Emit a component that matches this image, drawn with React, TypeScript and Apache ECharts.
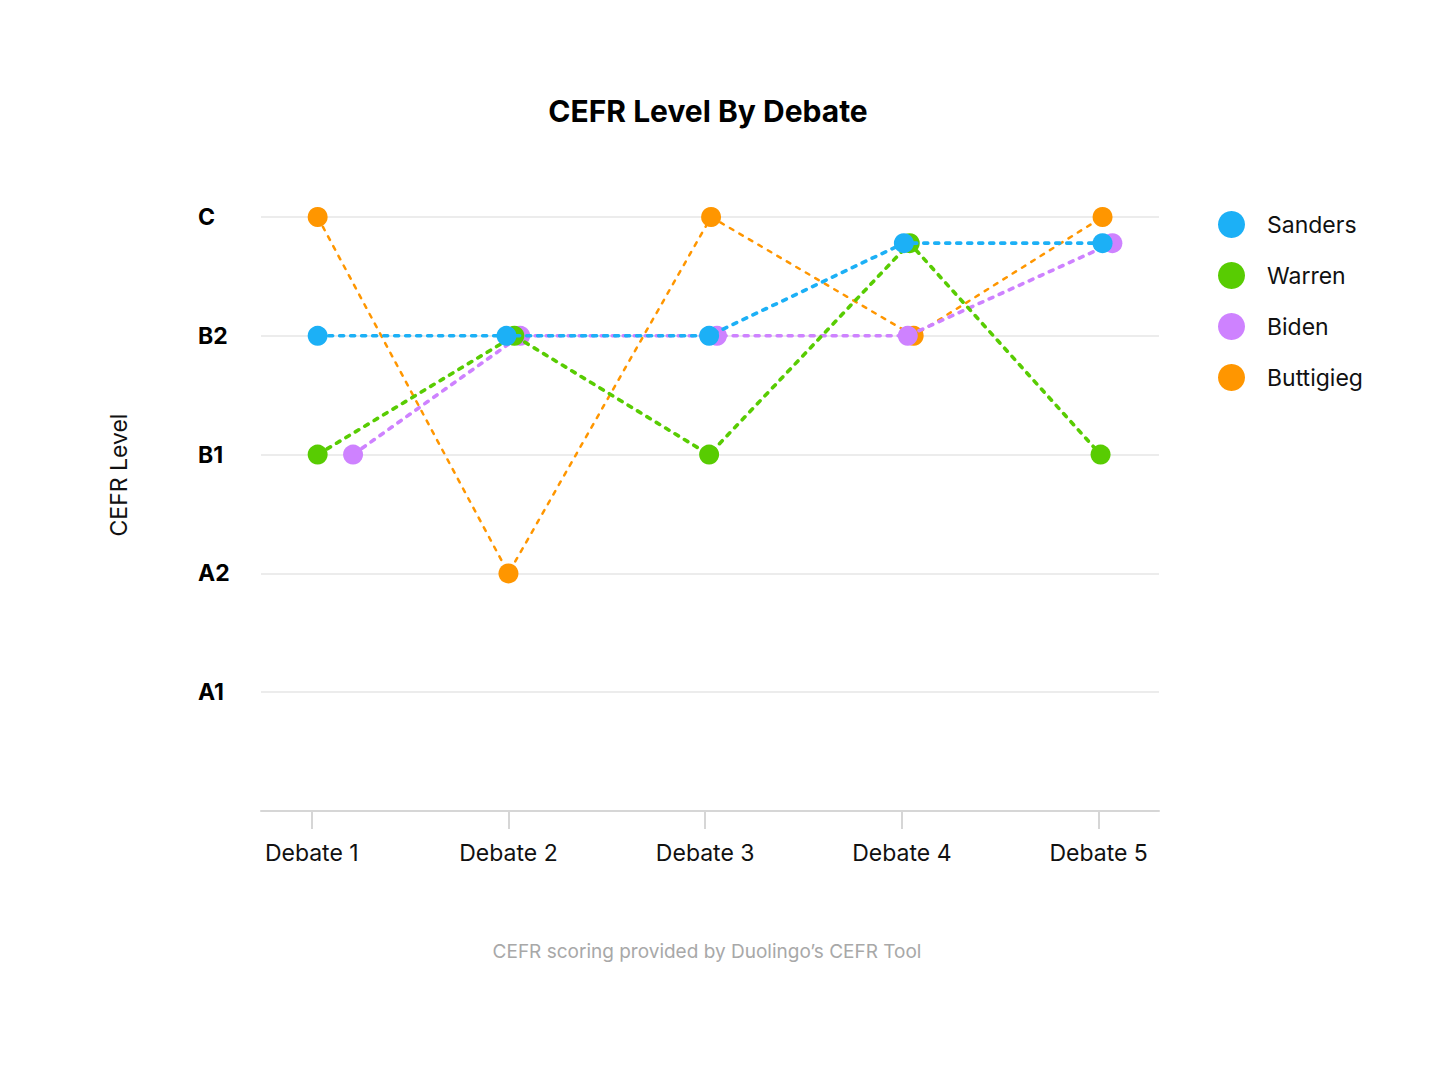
import React, { useEffect, useRef } from "react";
import * as echarts from "echarts";

const debates = ["Debate 1", "Debate 2", "Debate 3", "Debate 4", "Debate 5"];
const levels = ["", "A1", "A2", "B1", "B2", "C"];
const seriesNames = ["Sanders", "Warren", "Biden", "Buttigieg"];
const colors = ["#1cb0f6", "#58cc02", "#ce82ff", "#ff9600"];

// [debate position (with slight jitter), CEFR level index]
const sanders = [[1.03, 4], [1.99, 4], [3.02, 4], [4.01, 4.78], [5.02, 4.78]];
const warren = [[1.03, 3], [2.03, 4], [3.02, 3], [4.04, 4.78], [5.01, 3]];
const biden = [[1.21, 3], [2.06, 4], [3.06, 4], [4.03, 4], [5.07, 4.78]];
const buttigieg = [[1.03, 5], [2.0, 2], [3.03, 5], [4.06, 4], [5.02, 5]];

const allData = [sanders, warren, biden, buttigieg];
const lineWidths = [3.6, 3.6, 3.6, 2.5];
const FONT = "Inter";

export default function App() {
  const ref = useRef<HTMLDivElement>(null);
  useEffect(() => {
    if (!ref.current) return;
    const chart = echarts.init(ref.current, undefined, { renderer: "svg" });
    chart.setOption({
      animation: false,
      backgroundColor: "#ffffff",
      textStyle: { fontFamily: FONT },
      legend: {
        orient: "vertical",
        left: 1218,
        top: 211,
        padding: 0,
        icon: "circle",
        itemWidth: 27,
        itemHeight: 27,
        itemGap: 24,
        data: seriesNames,
        itemStyle: { borderWidth: 0 },
        textStyle: { fontFamily: FONT, fontSize: 23, color: "#111", padding: [0, 0, 0, 17] },
      },
      grid: { left: 261, right: 281, top: 217, bottom: 262, containLabel: false },
      xAxis: {
        type: "value",
        min: 0.742,
        max: 5.307,
        axisLine: { show: true, lineStyle: { color: "#d6d6d6", width: 2 } },
        axisTick: {
          show: true,
          customValues: [1, 2, 3, 4, 5],
          length: 18,
          lineStyle: { color: "#d6d6d6", width: 2 },
        },
        axisLabel: {
          customValues: [1, 2, 3, 4, 5],
          formatter: (v: number) => debates[Math.round(v) - 1] ?? "",
          margin: 30,
          fontFamily: FONT,
          fontSize: 23,
          color: "#111",
        },
        splitLine: { show: false },
      },
      yAxis: {
        type: "value",
        min: 0,
        max: 5,
        interval: 1,
        axisLine: { show: false },
        axisTick: { show: false },
        axisLabel: {
          formatter: (v: number) => levels[Math.round(v)] ?? "",
          align: "left",
          margin: 63,
          fontFamily: FONT,
          fontSize: 23,
          fontWeight: "bold",
          color: "#000",
        },
        splitLine: { show: true, lineStyle: { color: "#ececec", width: 2 } },
      },
      graphic: [
        {
          type: "text",
          x: 708,
          y: 111,
          style: {
            text: "CEFR Level By Debate",
            fontFamily: FONT,
            fontSize: 30,
            fontWeight: "bold",
            fill: "#000",
            textAlign: "center",
            textVerticalAlign: "middle",
          },
        },
        {
          type: "text",
          x: 119,
          y: 475,
          rotation: Math.PI / 2,
          style: {
            text: "CEFR Level",
            fontFamily: FONT,
            fontSize: 23,
            fill: "#111",
            textAlign: "center",
            textVerticalAlign: "middle",
          },
        },
        {
          type: "text",
          x: 707,
          y: 951,
          style: {
            text: "CEFR scoring provided by Duolingo\u2019s CEFR Tool",
            fontFamily: FONT,
            fontSize: 19,
            fill: "#a8a8a8",
            textAlign: "center",
            textVerticalAlign: "middle",
          },
        },
      ],
      series: seriesNames.map((name, i) => ({
        name,
        type: "line",
        data: allData[i],
        z: 10 - i,
        symbol: "circle",
        symbolSize: 20,
        itemStyle: { color: colors[i] },
        lineStyle: {
          color: colors[i],
          width: lineWidths[i],
          type: [4, 7],
          cap: "round",
        },
        emphasis: { disabled: true },
      })),
    });
    return () => chart.dispose();
  }, []);
  return <div ref={ref} style={{ width: 1440, height: 1073, margin: -8 }} />;
}
